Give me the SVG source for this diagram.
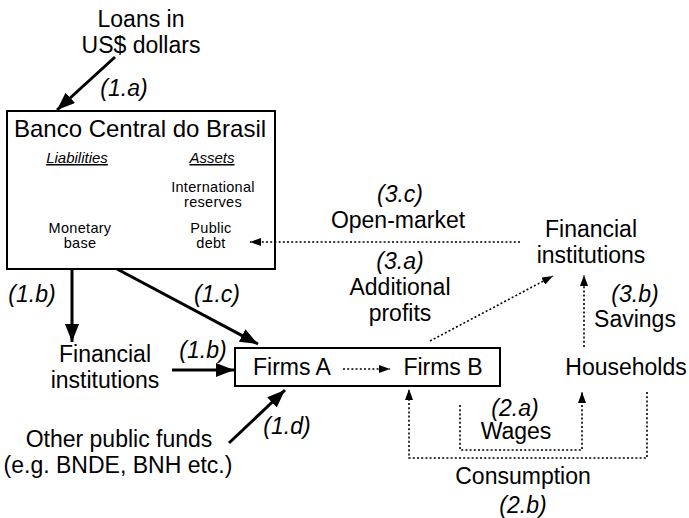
<svg xmlns="http://www.w3.org/2000/svg" width="689" height="518" viewBox="0 0 689 518">
<style>
text{font-family:"Liberation Sans",Arial,sans-serif;fill:#000;text-anchor:middle}
.l{font-size:23px}
.i{font-size:23px;font-style:italic}
.t{font-size:24px}
.s{font-size:14.5px;letter-spacing:0.3px}
.u{font-size:15px;font-style:italic;text-decoration:underline}
.box{fill:#fff;stroke:#000;stroke-width:2}
.solid{stroke:#000;stroke-width:3;fill:none;marker-end:url(#big)}
.dot{stroke:#000;stroke-width:1.6;fill:none;stroke-dasharray:2 2.2;marker-end:url(#small)}
</style>
<defs>
<marker id="big" markerUnits="userSpaceOnUse" markerWidth="18" markerHeight="14" refX="18" refY="7" orient="auto"><path d="M0,0 L18,7 L0,14 z" fill="#000"/></marker>
<marker id="small" markerUnits="userSpaceOnUse" markerWidth="11" markerHeight="8" refX="11" refY="4" orient="auto"><path d="M0,0 L11,4 L0,8 z" fill="#000"/></marker>
</defs>
<g id="loans"><text class="l" x="141" y="27">Loans in</text><text class="l" x="141" y="53">US$ dollars</text></g>
<g id="bcb">
<rect class="box" x="7" y="111" width="268" height="158"/>
<text class="t" x="140" y="137">Banco Central do Brasil</text>
<text class="u" x="77" y="163">Liabilities</text>
<text class="u" x="212" y="163">Assets</text>
<text class="s" x="213" y="192">International</text>
<text class="s" x="213" y="207">reserves</text>
<text class="s" x="80" y="233">Monetary</text>
<text class="s" x="80" y="248">base</text>
<text class="s" x="211" y="233">Public</text>
<text class="s" x="211" y="248">debt</text>
</g>
<g id="fin-right"><text class="l" x="591" y="237">Financial</text><text class="l" x="591" y="263">institutions</text></g>
<g id="fin-left"><text class="l" x="105" y="362">Financial</text><text class="l" x="105" y="388">institutions</text></g>
<g id="firms">
<rect class="box" x="235" y="348" width="265" height="38"/>
<text class="l" x="292" y="375">Firms A</text>
<text class="l" x="443" y="375">Firms B</text>
</g>
<g id="households"><text class="l" x="626" y="375">Households</text></g>
<g id="other"><text class="l" x="119" y="447">Other public funds</text><text class="l" x="118" y="473">(e.g. BNDE, BNH etc.)</text></g>
<g id="connectors">
<line class="solid" x1="115" y1="57" x2="57" y2="110"/>
<line class="solid" x1="72" y1="269" x2="72" y2="342"/>
<line class="solid" x1="117" y1="269" x2="258" y2="344"/>
<line class="solid" x1="172" y1="370" x2="234" y2="370"/>
<line class="solid" x1="229" y1="443" x2="285" y2="390"/>
<line class="dot" x1="520" y1="242" x2="250" y2="242"/>
<line class="dot" x1="430" y1="341" x2="553" y2="276"/>
<line class="dot" x1="584" y1="347" x2="584" y2="275"/>
<line class="dot" x1="343" y1="369" x2="390" y2="369"/>
<path class="dot" d="M647,392 V458 H409 V389"/>
<path class="dot" d="M460,405 V450 H582 V392"/>
</g>
<g id="labels">
<text class="i" x="124" y="96">(1.a)</text>
<text class="i" x="32" y="302">(1.b)</text>
<text class="i" x="217" y="302">(1.c)</text>
<text class="i" x="203" y="358">(1.b)</text>
<text class="i" x="287" y="434">(1.d)</text>
<text class="i" x="400" y="202">(3.c)</text>
<text class="l" x="398" y="228">Open-market</text>
<text class="i" x="400" y="269">(3.a)</text>
<text class="l" x="400" y="295">Additional</text>
<text class="l" x="400" y="321">profits</text>
<text class="i" x="635" y="302">(3.b)</text>
<text class="l" x="635" y="327">Savings</text>
<text class="i" x="515" y="416">(2.a)</text>
<text class="l" x="516" y="439">Wages</text>
<text class="l" x="523" y="484">Consumption</text>
<text class="i" x="523" y="513">(2.b)</text>
</g>
</svg>
